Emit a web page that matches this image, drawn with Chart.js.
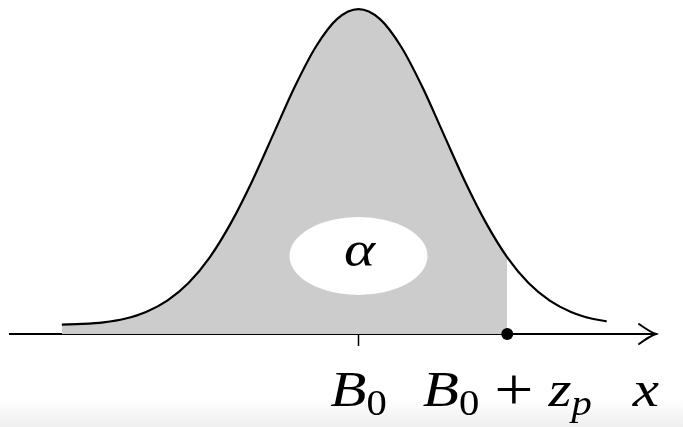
<!DOCTYPE html>
<html>
<head>
<meta charset="utf-8">
<script src="https://cdn.jsdelivr.net/npm/chart.js@4.4.1/dist/chart.umd.min.js"></script>
<style>
  html, body { margin: 0; padding: 0; }
  body {
    width: 683px; height: 427px; overflow: hidden;
    background: linear-gradient(to bottom, #ffffff 0px, #ffffff 398px, #efefef 427px);
  }
  canvas { display: block; }
</style>
</head>
<body>
<canvas id="chart" width="683" height="427"></canvas>
<script>
// density curve (x in units of sigma, B0 = 0; height relative to the peak)
const curveX = [-3.49, -3.25, -3, -2.75, -2.5, -2.25, -2, -1.75, -1.5, -1.25, -1, -0.75, -0.5, -0.25,
                0, 0.25, 0.5, 0.75, 1, 1.25, 1.5, 1.75, 2, 2.25, 2.5, 2.75, 2.92];
const curveY = [0.029, 0.031, 0.036, 0.047, 0.068, 0.103, 0.157, 0.236, 0.342, 0.471, 0.616, 0.761, 0.885, 0.970,
                1.0, 0.970, 0.885, 0.761, 0.616, 0.471, 0.342, 0.236, 0.157, 0.103, 0.068, 0.047, 0.039];

const zp = 1.75;                 // B0 + z_p
const tickValues = [0];          // only B0 gets a tick mark
const labelValues = [0, zp];
const labelTexts = ['B_0', 'B_0 + z_p'];
const axisTitle = 'x';
const areaLabel = '\u03b1';
const ellipseCenter = [0, 0.24];

const toPoints = (xs, ys) => xs.map((v, i) => ({ x: v, y: ys[i] }));
const shadedX = curveX.filter(v => v <= zp);
const shadedY = curveY.slice(0, shadedX.length);

const FAMILY = '"Liberation Serif", "DejaVu Serif", serif';
const STRETCH = 1.16;

function mathTokens(str) {
    const out = [];
    for (let i = 0; i < str.length; i++) {
        let ch = str[i];
        let sub = false;
        if (ch === '_') { sub = true; ch = str[++i]; }
        if (ch === ' ') { out.push({ gap: 15 }); continue; }
        out.push({ text: ch, sub: sub, italic: /[A-Za-z\u03b1]/.test(ch) });
    }
    return out;
}

function tokenFont(t) {
    const size = t.sub ? 35 : (t.text === '+' ? 60 : 51);
    return (t.italic ? 'italic ' : '') + size + 'px ' + FAMILY;
}

function drawMath(ctx, str, x, baseline, align) {
    const tokens = mathTokens(str);
    let total = 0;
    tokens.forEach(t => {
        if (t.gap) { t.w = t.gap; }
        else {
            ctx.font = tokenFont(t);
            t.w = ctx.measureText(t.text).width * STRETCH;
        }
        total += t.w;
    });
    let px = align === 'right' ? x - total : x - total / 2;
    ctx.fillStyle = '#000';
    ctx.textBaseline = 'alphabetic';
    ctx.textAlign = 'left';
    tokens.forEach(t => {
        if (!t.gap) {
            ctx.save();
            ctx.font = tokenFont(t);
            ctx.translate(px, baseline + (t.sub ? 9 : (t.text === '+' ? 3 : 0)));
            ctx.scale(STRETCH, 1);
            ctx.fillText(t.text, 0, 0);
            ctx.restore();
        }
        px += t.w;
    });
}

const mathPlugin = {
    id: 'mathLabels',
    afterDatasetsDraw(chart) {
        const { ctx, scales: { x, y } } = chart;
        const ex = x.getPixelForValue(ellipseCenter[0]);
        const ey = y.getPixelForValue(ellipseCenter[1]);
        ctx.save();
        ctx.fillStyle = '#ffffff';
        ctx.beginPath();
        ctx.ellipse(ex, ey, 69, 39, 0, 0, Math.PI * 2);
        ctx.fill();
        drawMath(ctx, areaLabel, ex + 1, ey + 10);
        ctx.restore();
    },
    afterDraw(chart) {
        const { ctx, scales: { x, y } } = chart;
        const axisY = y.getPixelForValue(0);
        const tip = x.right;
        ctx.save();
        // arrow head
        ctx.strokeStyle = '#000';
        ctx.lineWidth = 2;
        ctx.lineCap = 'round';
        ctx.beginPath();
        ctx.moveTo(tip - 17, axisY - 10);
        ctx.quadraticCurveTo(tip - 6, axisY - 2, tip, axisY);
        ctx.quadraticCurveTo(tip - 6, axisY + 2, tip - 17, axisY + 10);
        ctx.stroke();
        // labels under the axis
        labelValues.forEach((v, i) => {
            drawMath(ctx, labelTexts[i], x.getPixelForValue(v), axisY + 72);
        });
        drawMath(ctx, axisTitle, tip + 3, axisY + 72, 'right');
        ctx.restore();
    }
};

new Chart(document.getElementById('chart'), {
    type: 'scatter',
    data: {
        datasets: [
            {
                label: 'zp',
                data: [{ x: zp, y: 0 }],
                pointRadius: 6,
                pointBackgroundColor: '#000',
                pointBorderWidth: 0,
                clip: false
            },
            {
                label: 'density',
                data: toPoints(curveX, curveY),
                showLine: true,
                borderColor: '#000',
                borderWidth: 2.2,
                pointRadius: 0,
                cubicInterpolationMode: 'monotone',
                fill: false
            },
            {
                label: 'alpha area',
                data: toPoints(shadedX, shadedY),
                showLine: true,
                borderWidth: 0,
                borderColor: 'rgba(0,0,0,0)',
                backgroundColor: '#cccccc',
                pointRadius: 0,
                cubicInterpolationMode: 'monotone',
                fill: 'origin'
            }
        ]
    },
    options: {
        responsive: false,
        animation: false,
        events: [],
        layout: { autoPadding: false, padding: { left: 10, right: 27, top: 0, bottom: 81 } },
        plugins: {
            legend: { display: false },
            tooltip: { enabled: false }
        },
        scales: {
            x: {
                type: 'linear',
                min: -4.1,
                max: 3.5,
                afterBuildTicks: scale => { scale.ticks = tickValues.map(v => ({ value: v })); },
                ticks: { display: false },
                grid: {
                    display: true,
                    drawOnChartArea: false,
                    drawTicks: true,
                    tickLength: 12,
                    tickWidth: 1.5,
                    tickColor: '#000'
                },
                border: { display: true, color: '#000', width: 2 }
            },
            y: {
                display: false,
                min: 0,
                max: 1.028
            }
        }
    },
    plugins: [mathPlugin]
});
</script>
</body>
</html>
